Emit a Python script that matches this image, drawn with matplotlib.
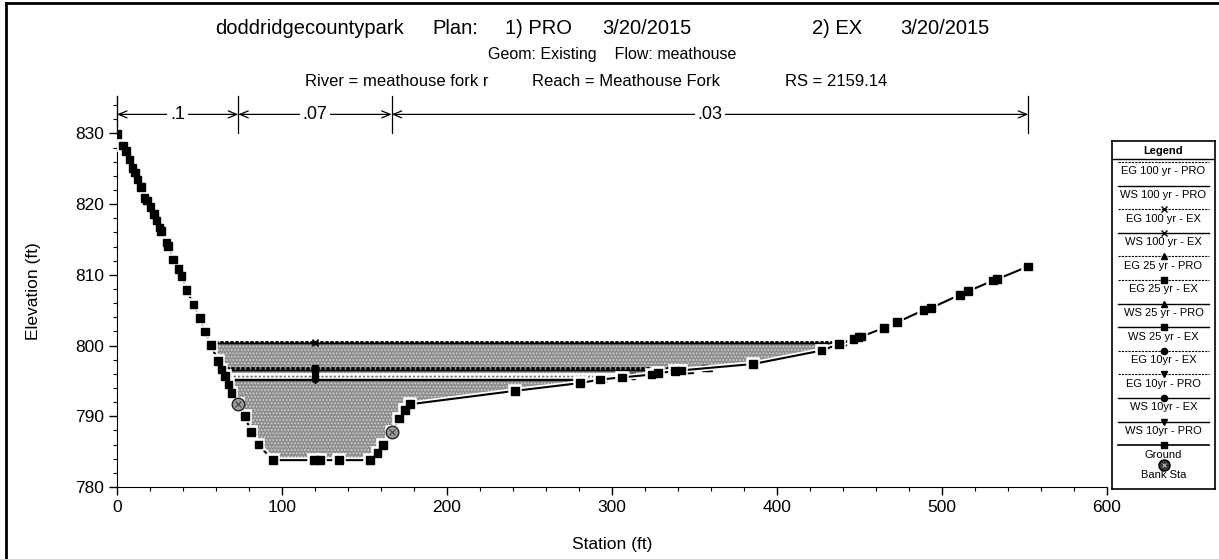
import numpy as np
import matplotlib.pyplot as plt
import matplotlib.patheffects as pe
from matplotlib.lines import Line2D
from matplotlib.ticker import MultipleLocator

plt.rcParams['font.family'] = ['Liberation Sans', 'DejaVu Sans']

# cross section ground points (station ft, elevation ft)
station = [0.0, 3.8, 5.5, 7.5, 9.5, 10.9, 12.5, 14.5, 16.6, 18.0, 20.4, 22.5, 24.0,
           25.7, 26.7, 30.1, 31.1, 34.1, 37.2, 39.2, 42.2, 46.3, 50.3, 53.3, 56.8,
           61.4, 63.4, 65.5, 67.5, 69.5, 73.5, 77.6, 81.2, 85.7, 94.4, 119.4, 123.0,
           134.5, 153.3, 157.8, 161.4, 166.5, 171.1, 174.5, 177.6, 241.2, 280.6,
           292.7, 305.9, 324.0, 328.0, 338.2, 342.2, 385.6, 427.0, 437.5, 446.3,
           449.3, 451.3, 465.0, 472.9, 488.7, 493.3, 510.9, 515.9, 531.1, 533.5, 552.3]
ground = [829.9, 828.3, 827.5, 826.3, 825.1, 824.5, 823.5, 822.4, 820.9, 820.5, 819.6, 818.6, 817.7,
          816.7, 816.2, 814.6, 814.1, 812.2, 810.8, 809.8, 807.9, 805.8, 803.9, 802.0, 800.1,
          797.8, 796.6, 795.7, 794.5, 793.3, 791.7, 790.0, 787.8, 786.0, 783.8, 783.8, 783.8,
          783.8, 783.8, 784.8, 785.9, 787.8, 789.7, 790.9, 791.7, 793.6, 794.7,
          795.2, 795.5, 795.9, 796.1, 796.4, 796.5, 797.4, 799.3, 800.2, 800.9,
          801.2, 801.3, 802.5, 803.3, 805.0, 805.3, 807.2, 807.7, 809.2, 809.4, 811.2]

bank_sta = [73.5, 166.5]

# manning's n values and their break stations
n_breaks = [0.0, 73.5, 166.5, 552.3]
n_vals = ['.1', '.07', '.03']

# water surface / energy grade profiles
profiles = ['EG 100 yr - PRO', 'WS 100 yr - PRO', 'EG 100 yr - EX', 'WS 100 yr - EX',
            'EG 25 yr - PRO', 'EG 25 yr - EX', 'WS 25 yr - PRO', 'WS 25 yr - EX',
            'EG 10yr - EX', 'EG 10yr - PRO', 'WS 10yr - EX', 'WS 10yr - PRO']
prof_elev = [800.45, 800.40, 800.45, 800.40,
             796.85, 796.80, 796.60, 796.55,
             795.65, 795.65, 795.25, 795.20]
prof_marker = ['', '', 'x', 'x', '^', 's', '^', 's', 'o', 'v', 'o', 'v']

# header pieces
title_parts = ['doddridgecountypark', 'Plan:', '1) PRO', '3/20/2015', '2) EX', '3/20/2015']
title_x = [215, 432, 505, 602, 812, 900]
line2 = 'Geom: Existing    Flow: meathouse'
line3_parts = ['River = meathouse fork r', 'Reach = Meathouse Fork', 'RS = 2159.14']
line3_x = [305, 532, 785]

sta = np.array(station)
gnd = np.array(ground)
lo = int(np.argmin(gnd))
hi = len(gnd) - 1 - int(np.argmin(gnd[::-1]))
left_s, left_g = sta[:lo + 1], gnd[:lo + 1]
right_s, right_g = sta[hi:], gnd[hi:]


def edges(elev):
    xl = np.interp(elev, left_g[::-1], left_s[::-1])
    xr = np.interp(elev, right_g, right_s)
    return xl, xr


fig = plt.figure(figsize=(12.19, 5.59), dpi=100)
W, H = 1219, 559
ax = fig.add_axes([117 / W, 1 - 487 / H, 990 / W, (487 - 96) / H])

# water area under the highest water surface
ws_top = max(prof_elev)
plt.rcParams['hatch.linewidth'] = 0.8
ax.fill_between(sta, gnd, ws_top, where=gnd <= ws_top, interpolate=True,
                facecolor='#8e8e8e', edgecolor='#d2d2d2', hatch='.....', lw=0, zorder=1)

xc = np.mean(bank_sta)
for name, e, m in zip(profiles, prof_elev, prof_marker):
    xl, xr = edges(e)
    if name.startswith('EG'):
        if '10yr' in name:
            ax.plot([xl, xr], [e, e], color='white', lw=4, zorder=2)
            ax.plot([xl, xr], [e, e], color='#777777', lw=1, ls=(0, (1.5, 1.5)), zorder=3)
        else:
            ax.plot([xl, xr], [e, e], color='black', lw=1.8, ls=(0, (1.2, 0.8)), zorder=3)
    else:
        ax.plot([xl, xr], [e, e], color='black', lw=1.0, zorder=3)
    if m:
        ax.plot([xl, xc, xr], [e, e, e], ls='none', marker=m, ms=4.5,
                color='black', mfc='black' if m != 'x' else 'none', zorder=4)

# ground line
ax.plot(sta, gnd, color='black', lw=1.5, marker='s', ms=5.5, zorder=5,
        path_effects=[pe.Stroke(linewidth=4, foreground='white'), pe.Normal()])

# bank stations
bank_elev = np.interp(bank_sta, sta, gnd)
ax.plot(bank_sta, bank_elev, ls='none', marker='o', ms=9, mfc='#9a9a9a',
        mec='#222222', mew=1.0, zorder=6)
ax.plot(bank_sta, bank_elev, ls='none', marker='x', ms=4, color='#444444',
        mew=0.8, zorder=7)

# manning's n bar along the top
y_n = 832.7
for xb in n_breaks:
    ax.plot([xb, xb], [830.1, 835.3], color='black', lw=0.9, clip_on=False, zorder=5)
for i, v in enumerate(n_vals):
    x0, x1 = n_breaks[i], n_breaks[i + 1]
    ax.annotate('', xy=(x0, y_n), xytext=(x1, y_n),
                arrowprops=dict(arrowstyle='<->,head_length=0.6,head_width=0.25',
                                lw=0.9, color='black', shrinkA=0, shrinkB=0))
    ax.text((x0 + x1) / 2, y_n, v, fontsize=13, ha='center', va='center',
            bbox=dict(facecolor='white', edgecolor='none', pad=2))

ax.set_xlim(0, 600)
ax.set_ylim(780, 835.3)
ax.xaxis.set_major_locator(MultipleLocator(100))
ax.xaxis.set_minor_locator(MultipleLocator(20))
ax.yaxis.set_minor_locator(MultipleLocator(2))
ax.set_yticks(np.arange(780, 831, 10))
ax.spines['top'].set_visible(False)
ax.spines['right'].set_visible(False)
ax.tick_params(which='major', direction='out', length=6, width=1, labelsize=12.5)
ax.tick_params(which='minor', direction='out', length=3, width=0.8)
ax.set_xlabel('Station (ft)', fontsize=12.5, labelpad=16)
ax.set_ylabel('Elevation (ft)', fontsize=12.5, labelpad=24)

# header lines
for t, x in zip(title_parts, title_x):
    fig.text(x / W, 1 - 28 / H, t, fontsize=14.5, ha='left', va='center')
fig.text(612 / W, 1 - 55 / H, line2, fontsize=11.5, ha='center', va='center')
for t, x in zip(line3_parts, line3_x):
    fig.text(x / W, 1 - 82 / H, t, fontsize=12, ha='left', va='center')

# page frame
fig.add_artist(Line2D([6 / W, 6 / W], [0, 1 - 3 / H], color='black', lw=2))
fig.add_artist(Line2D([6 / W, 1], [1 - 3 / H, 1 - 3 / H], color='black', lw=2))

# legend box
lg = fig.add_axes([1112 / W, 1 - 489 / H, 103 / W, (489 - 141) / H])
lg.set_xlim(0, 1)
lg.set_ylim(348, 0)
lg.set_xticks([])
lg.set_yticks([])
for s in lg.spines.values():
    s.set_linewidth(1.2)
lg.text(0.5, 10, 'Legend', fontsize=8, fontweight='bold', ha='center', va='center')
lg.plot([0, 1], [18, 18], color='black', lw=1)
step = 23.6
for i, (name, m) in enumerate(zip(profiles, prof_marker)):
    yl = 21 + i * step
    if name.startswith('EG'):
        lg.plot([0.06, 0.94], [yl, yl], color='black', lw=0.8, ls=(0, (2, 1)))
    else:
        lg.plot([0.06, 0.94], [yl, yl], color='black', lw=1.0)
    if m:
        lg.plot([0.5], [yl], marker=m, ms=4.5, color='black',
                mfc='black' if m != 'x' else 'none')
    lg.text(0.5, yl + 9.5, name, fontsize=8, ha='center', va='center')
yl = 21 + 12 * step
lg.plot([0.06, 0.94], [yl, yl], color='black', lw=1.2)
lg.plot([0.5], [yl], marker='s', ms=5, color='black')
lg.text(0.5, yl + 9.5, 'Ground', fontsize=8, ha='center', va='center')
lg.plot([0.5], [yl + 20], marker='o', ms=8, mfc='#333333', mec='black')
lg.plot([0.5], [yl + 20], marker='x', ms=3.5, color='#bbbbbb', mew=0.8)
lg.text(0.5, yl + 30, 'Bank Sta', fontsize=8, ha='center', va='center')

fig.savefig('out.png', dpi=100)
